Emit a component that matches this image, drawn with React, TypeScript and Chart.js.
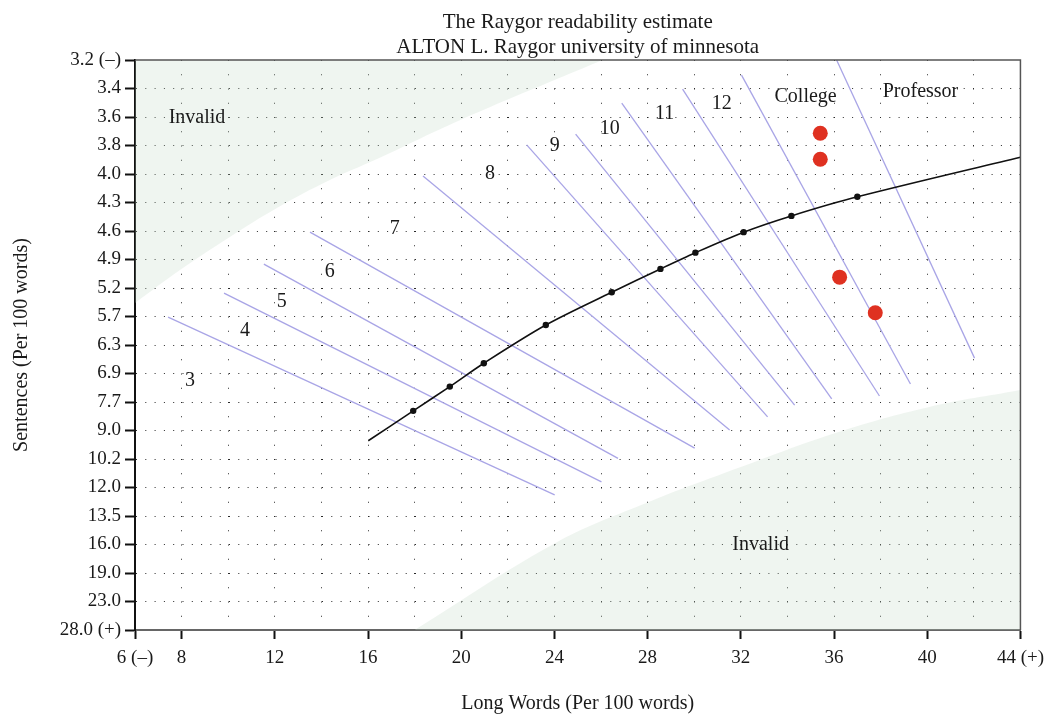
import React, { useEffect, useRef } from "react";
import { Chart, registerables } from "chart.js";

Chart.register(...registerables);

// ---------- data ----------
const xGridValues = [6, 8, 10, 12, 14, 16, 18, 20, 22, 24, 26, 28, 30, 32, 34, 36, 38, 40, 42, 44];
const xTickLabels: Record<number, string> = {
  6: "6 (–)", 8: "8", 12: "12", 16: "16", 20: "20", 24: "24",
  28: "28", 32: "32", 36: "36", 40: "40", 44: "44 (+)",
};
const yTickLabels = [
  "3.2 (–)", "3.4", "3.6", "3.8", "4.0", "4.3", "4.6", "4.9", "5.2", "5.7",
  "6.3", "6.9", "7.7", "9.0", "10.2", "12.0", "13.5", "16.0", "19.0", "23.0", "28.0 (+)",
];

// grade separator lines (x = long words, y = position on the sentence scale)
const gradeLineX1 = [7.42, 9.82, 11.53, 13.51, 18.36, 22.81, 24.91, 26.89, 29.5, 32.03, 36.11];
const gradeLineY1 = [9.02, 8.18, 7.16, 6.04, 4.07, 2.98, 2.6, 1.51, 1.02, 0.53, 0.0];
const gradeLineX2 = [24.01, 26.02, 26.73, 30.02, 31.52, 33.15, 34.31, 35.9, 37.95, 39.28, 42.03];
const gradeLineY2 = [15.26, 14.8, 13.98, 13.62, 12.98, 12.52, 12.11, 11.89, 11.79, 11.37, 10.46];

// average curve
const curveX = [16.01, 17.94, 19.51, 20.97, 23.63, 26.46, 28.55, 30.05, 32.12, 34.17, 37.0, 44.0];
const curveY = [13.36, 12.31, 11.46, 10.64, 9.3, 8.15, 7.33, 6.76, 6.04, 5.47, 4.8, 3.41];
const curveMarked = [false, true, true, true, true, true, true, true, true, true, true, false];

// plotted samples
const sampleX = [35.41, 35.41, 36.24, 37.77];
const sampleY = [2.57, 3.48, 7.62, 8.87];

// invalid regions
const upperInvalidX = [6.0, 7.93, 10.07, 12.09, 14.36, 16.29, 19.94, 26.07];
const upperInvalidY = [8.53, 7.37, 6.21, 5.19, 4.21, 3.51, 2.11, 0.0];
const lowerInvalidX = [18.0, 23.97, 27.83, 32.0, 36.2, 40.05, 44.0];
const lowerInvalidY = [20.0, 16.98, 15.58, 14.28, 13.05, 12.18, 11.58];

// text annotations
const annText = ["3", "4", "5", "6", "7", "8", "9", "10", "11", "12", "College", "Professor", "Invalid", "Invalid"];
const annX = [8.36, 10.72, 12.3, 14.36, 17.15, 21.23, 24.01, 26.37, 28.73, 31.18, 34.78, 39.71, 8.66, 32.85];
const annY = [11.26, 9.51, 8.49, 7.44, 5.93, 4.0, 3.02, 2.42, 1.89, 1.54, 1.3, 1.12, 2.04, 17.02];

const titleLines = ["The Raygor readability estimate", "ALTON L. Raygor university of minnesota"];
const xTitle = "Long Words (Per 100 words)";
const yTitle = "Sentences (Per 100 words)";

// ---------- helpers ----------
const pts = (xs: number[], ys: number[]) => xs.map((x, i) => ({ x, y: ys[i] }));
const FONT = "'Liberation Serif', 'Times New Roman', serif";
const TEXT = "#1a1a1a";
const GRID = "#2a2a2a";

export default function App() {
  const ref = useRef<HTMLCanvasElement | null>(null);

  useEffect(() => {
    document.body.style.margin = "0";
    const canvas = ref.current;
    if (!canvas) return;
    Chart.defaults.font.family = FONT;
    Chart.defaults.color = TEXT;

    const framePlugin = {
      id: "frame",
      afterDatasetsDraw(chart: any) {
        const { ctx, chartArea } = chart;
        ctx.save();
        ctx.strokeStyle = "#555";
        ctx.lineWidth = 1.5;
        ctx.beginPath();
        ctx.moveTo(chartArea.left, chartArea.top);
        ctx.lineTo(chartArea.right, chartArea.top);
        ctx.lineTo(chartArea.right, chartArea.bottom);
        ctx.stroke();
        ctx.restore();
      },
    };

    const textPlugin = {
      id: "texts",
      afterDatasetsDraw(chart: any) {
        const { ctx, scales, chartArea } = chart;
        ctx.save();
        ctx.fillStyle = TEXT;
        ctx.font = `20px ${FONT}`;
        ctx.textAlign = "center";
        ctx.textBaseline = "middle";
        annText.forEach((t, i) => {
          ctx.fillText(t, scales.x.getPixelForValue(annX[i]), scales.y.getPixelForValue(annY[i]));
        });
        // title centred over the plot area
        const cx = (chartArea.left + chartArea.right) / 2;
        ctx.font = `21px ${FONT}`;
        ctx.textBaseline = "alphabetic";
        ctx.fillText(titleLines[0], cx, 28);
        ctx.fillText(titleLines[1], cx, 53);
        ctx.restore();
      },
    };

    const gradeSets = gradeLineX1.map((_, i) => ({
      data: [
        { x: gradeLineX1[i], y: gradeLineY1[i] },
        { x: gradeLineX2[i], y: gradeLineY2[i] },
      ],
      showLine: true,
      borderColor: "#a9a5e6",
      borderWidth: 1.3,
      pointRadius: 0,
      fill: false,
    }));

    const fillColor = "rgba(190,215,195,0.25)";

    const chart = new Chart(canvas, {
      type: "scatter",
      data: {
        datasets: [
          {
            data: pts(sampleX, sampleY),
            pointRadius: 7.5,
            pointBackgroundColor: "#df3121",
            pointBorderWidth: 0,
            showLine: false,
          } as any,
          {
            data: pts(curveX, curveY),
            showLine: true,
            borderColor: "#111",
            borderWidth: 1.6,
            tension: 0.3,
            pointRadius: curveMarked.map((m) => (m ? 3.2 : 0)),
            pointBackgroundColor: "#111",
            pointBorderWidth: 0,
            fill: false,
          } as any,
          ...gradeSets,
          {
            data: pts(upperInvalidX, upperInvalidY),
            showLine: true,
            borderWidth: 0,
            borderColor: "rgba(0,0,0,0)",
            backgroundColor: fillColor,
            pointRadius: 0,
            tension: 0.4,
            fill: { value: 0 },
          } as any,
          {
            data: pts(lowerInvalidX, lowerInvalidY),
            showLine: true,
            borderWidth: 0,
            borderColor: "rgba(0,0,0,0)",
            backgroundColor: fillColor,
            pointRadius: 0,
            tension: 0.4,
            fill: { value: 20 },
          } as any,
        ],
      },
      options: {
        animation: false,
        responsive: false,
        events: [],
        layout: { padding: { top: 60, right: 31, left: 0, bottom: 0 } },
        plugins: {
          legend: { display: false },
          tooltip: { enabled: false },
          title: { display: false },
        },
        scales: {
          x: {
            type: "linear",
            min: 6,
            max: 44,
            afterBuildTicks: (s: any) => {
              s.ticks = xGridValues.map((v) => ({ value: v }));
            },
            afterFit: (s: any) => {
              s.height = 86;
            },
            ticks: {
              autoSkip: false,
              maxRotation: 0,
              padding: 8,
              color: TEXT,
              font: { size: 19 },
              callback: (v: any) => xTickLabels[v as number] ?? "",
            },
            grid: {
              color: (c: any) =>
                c.tick && (c.tick.value === 6 || c.tick.value === 44) ? "rgba(0,0,0,0)" : GRID,
              lineWidth: 1,
              tickLength: 9,
              tickWidth: 2,
              tickColor: (c: any) =>
                c.tick && xTickLabels[c.tick.value] !== undefined ? "#111" : "rgba(0,0,0,0)",
            },
            border: { display: true, color: "#666", width: 2, dash: [1, 13.25] },
            title: {
              display: true,
              text: xTitle,
              color: TEXT,
              font: { size: 20 },
              padding: { top: 0, bottom: 0 },
            },
          },
          y: {
            type: "linear",
            min: 0,
            max: 20,
            reverse: true,
            afterBuildTicks: (s: any) => {
              s.ticks = yTickLabels.map((_, i) => ({ value: i }));
            },
            afterFit: (s: any) => {
              s.width = 135;
            },
            ticks: {
              autoSkip: false,
              padding: 4,
              color: TEXT,
              font: { size: 19 },
              callback: (v: any) => yTickLabels[v as number] ?? "",
            },
            grid: {
              color: (c: any) =>
                c.tick && (c.tick.value === 0 || c.tick.value === 20) ? "rgba(0,0,0,0)" : GRID,
              lineWidth: 1,
              tickLength: 10,
              tickWidth: 2,
              tickColor: "#111",
            },
            border: { display: true, color: "#111", width: 2, dash: [1, 8.3] },
            title: {
              display: true,
              text: yTitle,
              color: TEXT,
              font: { size: 20 },
              padding: { top: 10, bottom: 0 },
            },
          },
        },
      } as any,
      plugins: [framePlugin, textPlugin],
    });

    return () => chart.destroy();
  }, []);

  return (
    <div style={{ width: 1052, height: 716 }}>
      <canvas ref={ref} width={1052} height={716} style={{ display: "block" }} />
    </div>
  );
}
